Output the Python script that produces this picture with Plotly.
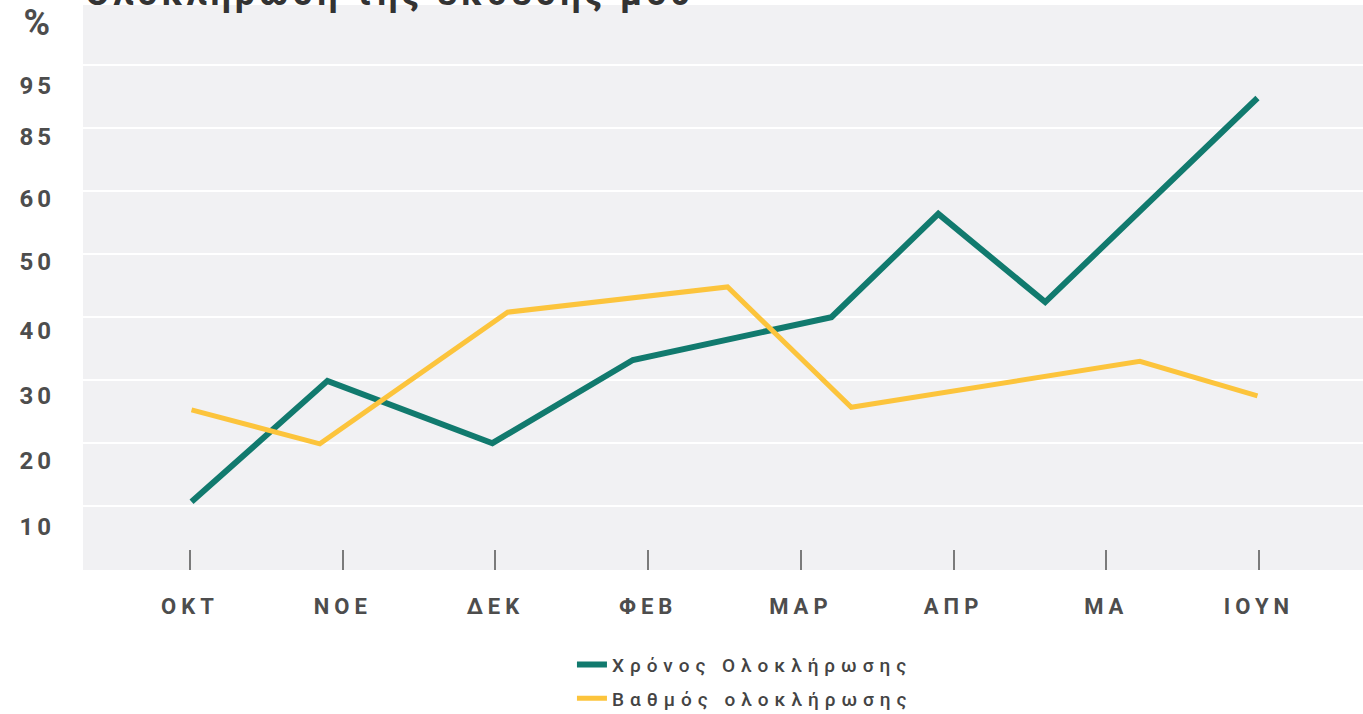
import plotly.graph_objects as go

# ---- data (month index on x, level on the chart's y scale) ----
months = ["ΟΚΤ", "ΝΟΕ", "ΔΕΚ", "ΦΕΒ", "ΜΑΡ", "ΑΠΡ", "ΜΑ", "ΙΟΥΝ"]
y_labels = ["10", "20", "30", "40", "50", "60", "85", "95", "%"]
y_label_levels = [1.0, 2.05, 3.08, 4.11, 5.21, 6.22, 7.19, 8.0, 8.94]
grid_levels = [1.333, 2.333, 3.333, 4.333, 5.333, 6.333, 7.333, 8.333]

green_name = "Χρόνος Ολοκλήρωσης"
green_x = [0.01, 0.90, 1.98, 2.90, 4.20, 4.90, 5.60, 6.99]
green_y = [1.40, 3.32, 2.33, 3.65, 4.33, 5.97, 4.57, 7.81]

yellow_name = "Βαθμός ολοκλήρωσης"
yellow_x = [0.01, 0.85, 2.08, 3.52, 4.33, 6.22, 6.99]
yellow_y = [2.86, 2.32, 4.41, 4.81, 2.90, 3.63, 3.08]

title_text = "Ολοκλήρωση της έκθεσής μου"

GREEN = "#117a6e"
YELLOW = "#fcc43c"
TXT = "#4d4d4d"


def spaced(s, px):
    return f'<span style="letter-spacing:{px}px">{s}</span>'


fig = go.Figure()
fig.add_trace(go.Scatter(x=green_x, y=green_y, mode="lines", name=spaced(green_name, 6),
                         line=dict(color=GREEN, width=6), legendgroup="g"))
fig.add_trace(go.Scatter(x=yellow_x, y=yellow_y, mode="lines", name=spaced(yellow_name, 6),
                         line=dict(color=YELLOW, width=5), legendgroup="y"))
# carrier for grid-only axis
fig.add_trace(go.Scatter(x=[None], y=[None], yaxis="y2", showlegend=False, hoverinfo="skip"))

ticktext_y = [spaced(t, 4) if t != "%" else
              '<span style="font-size:36px;letter-spacing:5px">%</span>' for t in y_labels]

fig.update_layout(
    width=1363, height=714,
    margin=dict(l=83, r=0, t=5, b=144, autoexpand=False),
    paper_bgcolor="white",
    plot_bgcolor="#f1f1f3",
    font=dict(family="Roboto", color=TXT),
    showlegend=True,
    legend=dict(x=0.382, y=-0.134, xanchor="left", yanchor="top",
                font=dict(family="Roboto", size=19, color="#444", weight=500),
                tracegroupgap=6, bgcolor="rgba(0,0,0,0)"),
    xaxis=dict(range=[-0.7007, 7.681], tickvals=list(range(len(months))),
               ticktext=[spaced(m, 5) for m in months],
               ticks="inside", ticklen=20, tickwidth=1.5, tickcolor="#7a7a7a",
               showgrid=False, zeroline=False, showline=False,
               ticklabelstandoff=21,
               tickfont=dict(family="Roboto", size=22, color=TXT, weight=700)),
    yaxis=dict(range=[0.317, 9.286], tickvals=y_label_levels, ticktext=ticktext_y,
               showgrid=False, zeroline=False, showline=False, ticks="",
               ticklabelstandoff=27,
               tickfont=dict(family="Roboto", size=24, color=TXT, weight=700)),
    yaxis2=dict(range=[0.317, 9.286], overlaying="y", side="left", tickvals=grid_levels,
                showticklabels=False, showgrid=True, gridcolor="white", gridwidth=2,
                zeroline=False, showline=False, ticks=""),
)

fig.add_annotation(text=spaced(title_text, 4), xref="paper", yref="paper",
                   x=0.0, y=0.98, xanchor="left", yanchor="bottom", showarrow=False,
                   font=dict(family="Roboto", size=36, color="#333", weight=700))

fig.write_html("out.html", config={"displayModeBar": False},
               post_script="document.body.style.margin='0';")
